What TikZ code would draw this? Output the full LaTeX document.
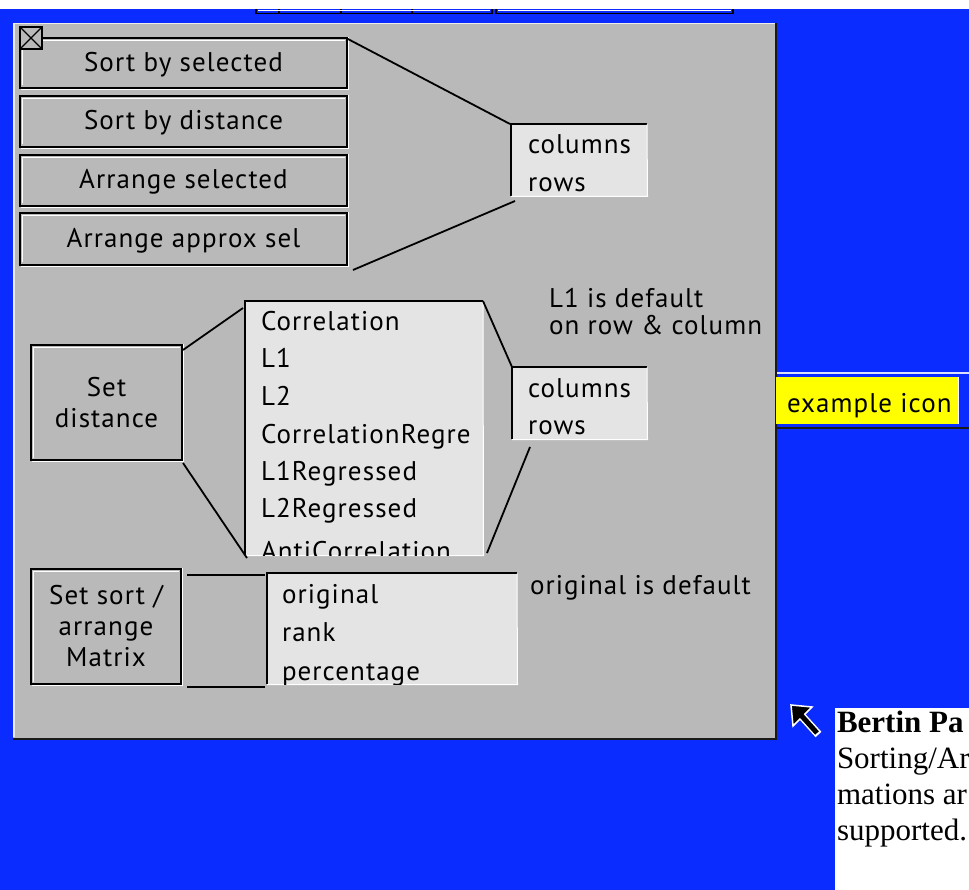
\documentclass[tikz,border=0pt]{standalone}
\usepackage{fontspec}
\setmainfont{PT Sans}[LetterSpace=4]
\newfontfamily\tnr{Liberation Serif}
\definecolor{bluebg}{RGB}{10,44,255}
\definecolor{panel}{RGB}{185,185,185}
\definecolor{listc}{RGB}{228,228,228}
\definecolor{lightedge}{RGB}{236,236,236}
\definecolor{darkedge}{RGB}{26,26,26}
\definecolor{iconyellow}{RGB}{255,255,0}
\begin{document}
\begin{tikzpicture}[x=1pt,y=-1pt,
  ui/.style={font=\fontsize{27}{31}\selectfont, text=black},
  btn/.style={ui, draw=black, line width=2pt, fill=panel, inner sep=0pt, outer sep=0pt, align=center},
  one/.style={text height=21pt, text depth=4pt},
  lbox/.style={fill=listc, draw=none, inner sep=0pt, outer sep=0pt},
  lbl/.style={ui, anchor=base west, inner sep=0pt, outer sep=0pt},
  conn/.style={draw=black, line width=1.8pt},
  hl/.style={white, line width=1pt},
  serif/.style={font=\tnr\fontsize{31}{36}\selectfont, text=black, anchor=base west, inner sep=0pt, outer sep=0pt}
]
\useasboundingbox (0,0) rectangle (969,890);
% background
\fill[bluebg] (0,0) rectangle (969,890);
\fill[white] (0,0) rectangle (969,9);
% top strip button bottoms
\draw[black, line width=1.5pt] (256,9) -- (256,13.5) -- (492,13.5) -- (492,9);
\foreach \xx in {279,341,412} \draw[black, line width=1.5pt] (\xx,9) -- (\xx,13.5);
\draw[white, line width=1pt] (258,11) -- (490,11);
\draw[black, line width=1.5pt] (496,9) -- (496,13.5) -- (733,13.5) -- (733,9);
\draw[white, line width=1pt] (498,11) -- (731,11);
% panel
\fill[panel] (13,23) rectangle (776,738);
\draw[lightedge, line width=1.5pt] (13.75,737) -- (13.75,23.75) -- (775,23.75);
\draw[darkedge, line width=2.5pt] (776,23) -- (776,739) -- (13,739);

% left buttons
\node[btn, one, minimum width=327, minimum height=50] (sbs) at (183.5,63) {Sort by selected};
\node[btn, one, minimum width=327, minimum height=51] (sbd) at (183.5,121.5) {Sort by distance};
\node[btn, one, minimum width=327, minimum height=51] (asel) at (183.5,180.5) {Arrange selected};
\node[btn, one, minimum width=327, minimum height=52] (aapp) at (183.5,239) {Arrange approx sel};
\node[btn, minimum width=151, minimum height=115] (sd) at (106.5,402.5) {Set\\distance};
\node[btn, minimum width=150, minimum height=115] (ssa) at (106,626.5) {Set sort /\\arrange\\Matrix};
\foreach \n in {sbs,sbd,asel,aapp,sd,ssa} {
  \draw[hl] ([xshift=2.5pt,yshift=2.5pt]\n.south west) -- ([xshift=2.5pt,yshift=-2.5pt]\n.north west) -- ([xshift=-2.5pt,yshift=-2.5pt]\n.north east);
  \draw[hl] ([xshift=1pt,yshift=-1.8pt]\n.south west) -- ([xshift=1.8pt,yshift=-1.8pt]\n.south east) -- ([xshift=1.8pt,yshift=1pt]\n.north east);
}
% close box
\node[draw=black, line width=1.5pt, fill=panel, minimum width=22, minimum height=22, inner sep=0pt, outer sep=0pt] (xbox) at (31,38) {};
\draw[black, line width=1.3pt] (xbox.north west) -- (xbox.south east) (xbox.north east) -- (xbox.south west);

% list boxes
\node[lbox, minimum width=136, minimum height=72] (cb1) at (579,160) {};
\node[lbox, minimum width=238, minimum height=254] (lst1) at (364,428) {};
\node[lbox, minimum width=135, minimum height=72] (cb2) at (579.5,403) {};
\node[lbox, minimum width=250, minimum height=111] (lst3) at (392,628.5) {};
\foreach \n in {cb1,lst1,cb2,lst3} {
  \draw[black, line width=2.5pt] (\n.south west) -- (\n.north west) -- (\n.north east);
  \draw[white, line width=1pt] ([yshift=-0.5pt]\n.north east) -- ([xshift=0.5pt,yshift=-0.5pt]\n.south east) -- ([yshift=-0.5pt]\n.south west);
}

% list texts
\node[lbl] (cb1a) at (528,154) {columns};
\node[lbl] (cb1b) at (528,192) {rows};
\node[lbl] (cb2a) at (528,397) {columns};
\node[lbl] (cb2b) at (528,434) {rows};
\begin{scope}
  \clip ([xshift=1.25pt]lst1.south west) rectangle (lst1.north east);
  \node[lbl] (d1) at (261,331) {Correlation};
  \node[lbl] (d2) at (261,368) {L1};
  \node[lbl] (d3) at (261,406) {L2};
  \node[lbl] (d4) at (261,443) {CorrelationRegre};
  \node[lbl] (d5) at (261,480) {L1Regressed};
  \node[lbl] (d6) at (261,517) {L2Regressed};
  \node[lbl] (d7) at (261,560) {AntiCorrelation};
\end{scope}
\begin{scope}
  \clip ([xshift=1.25pt]lst3.south west) rectangle (lst3.north east);
  \node[lbl] (s1) at (282,603) {original};
  \node[lbl] (s2) at (282,641) {rank};
  \node[lbl] (s3) at (282,680) {percentage};
\end{scope}

% notes
\node[lbl] (n1) at (549,308) {L1 is default};
\node[lbl] (n2) at (549,335) {on row \& column};
\node[lbl] (n3) at (530,594) {original is default};

% connectors
\draw[conn] ([xshift=-1pt]sbs.north east) -- ([xshift=-1pt]cb1.north west);
\draw[conn] ([xshift=4pt,yshift=-5pt]cb1.south west) -- ([xshift=6pt,yshift=-5pt]aapp.south east);
\draw[conn] ([xshift=1pt,yshift=-5pt]sd.north east) -- ([xshift=-2pt,yshift=-7pt]lst1.north west);
\draw[conn] ([xshift=1pt,yshift=-3pt]sd.south east) -- ([xshift=2pt,yshift=-3pt]lst1.south west);
\draw[conn] (lst1.north east) -- (cb2.north west);
\draw[conn] ([xshift=18pt,yshift=-8pt]cb2.south west) -- ([xshift=4pt,yshift=2pt]lst1.south east);
\coordinate (ssaT) at ([xshift=6pt,yshift=-6pt]ssa.north east);
\coordinate (ssaB) at ([xshift=6pt,yshift=-3pt]ssa.south east);
\draw[conn] (ssaT) -- ([xshift=-2pt]ssaT -| lst3.west);
\draw[conn] (ssaB) -- ([xshift=-2pt]ssaB -| lst3.west);

% example icon
\draw[white!85!bluebg, line width=1.5pt] (777,373) -- (969,373);
\node[fill=iconyellow, minimum width=182, minimum height=47, inner sep=0pt, outer sep=0pt] (ex) at (867,400.5) {};
\draw[white, line width=1pt] (ex.north east) -- (ex.south east);
\node[lbl] (exl) at (787,413) {example icon};
\draw[darkedge, line width=2pt] (777,428) -- (969,428);

% cursor arrow
\coordinate (tip) at (791,705);
\coordinate (tail) at (817,733);
\draw[white, line width=8pt] (799,713) -- (818.5,734.5);
\filldraw[black, draw=white, line width=1.5pt, line join=miter] (tip) -- (812,707) -- (793,726) -- cycle;
\draw[black, line width=5pt] (800,714) -- (tail);

% caption box
\node[fill=white, minimum width=134, minimum height=182, inner sep=0pt, outer sep=0pt] (cap) at (902,799) {};
\begin{scope}
  \clip (cap.south west) rectangle (cap.north east);
  \node[serif] (c1) at (837,732) {\bfseries Bertin Pa};
  \node[serif] (c2) at (837,768) {Sorting/Ar};
  \node[serif] (c3) at (837,804) {mations ar};
  \node[serif] (c4) at (837,840) {supported.};
\end{scope}
\end{tikzpicture}
\end{document}
